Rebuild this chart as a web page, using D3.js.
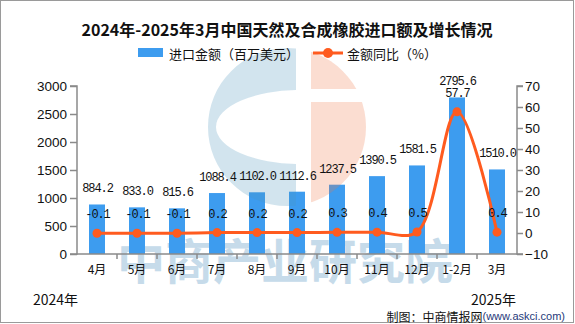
<!DOCTYPE html>
<html><head><meta charset="utf-8">
<script src="https://cdn.jsdelivr.net/npm/d3@7/dist/d3.min.js"></script>
<style>body{margin:0;background:#fff}svg{display:block}</style>
</head><body><svg id="c" width="575" height="324"></svg>
<script>
const categories = ["4月","5月","6月","7月","8月","9月","10月","11月","12月","1-2月","3月"];
const importValues = [884.2,833.0,815.6,1088.4,1102.0,1112.6,1237.5,1390.5,1581.5,2795.6,1510.0];
const yoyValues = [-0.1,-0.1,-0.1,0.2,0.2,0.2,0.3,0.4,0.5,57.7,0.4];
const leftTicks = [0,500,1000,1500,2000,2500,3000];
const rightTicks = [-10,0,10,20,30,40,50,60,70];
const title = "2024年-2025年3月中国天然及合成橡胶进口额及增长情况";
const legendBar = "进口金额（百万美元）";
const legendLine = "金额同比（%）";

const svg = d3.select("#c");
const CJK = "'Noto Sans CJK SC', sans-serif";
const MONO = "'Liberation Mono', monospace";
const L = 77, R = 517, T = 86, B = 254;
const blue = "#3D9CEF", orange = "#FF5B1F", axisC = "#8a8a8a";

svg.append("rect").attr("x",0.5).attr("y",0.5).attr("width",573).attr("height",322)
  .attr("fill","#fff").attr("stroke","#9a9a9a");

const x = d3.scaleBand().domain(categories).range([L,R]).paddingInner(0.6).paddingOuter(0.3);
const yL = d3.scaleLinear().domain([0,3000]).range([B,T]);
const yR = d3.scaleLinear().domain([-10,70]).range([B,T]);

// watermark text (behind bars)
svg.append("text").attr("x",285).attr("y",258).attr("text-anchor","middle")
  .attr("dominant-baseline","central").attr("font-family",CJK).attr("font-weight","bold")
  .attr("font-size",48).attr("fill","#C6DBEA").text("中商产业研究院");

// bars
svg.selectAll("rect.bar").data(importValues).join("rect").attr("class","bar")
  .attr("x",(d,i)=>x(categories[i])).attr("width",x.bandwidth())
  .attr("y",d=>yL(d)).attr("height",d=>B-yL(d)).attr("fill",blue);

// logo watermark (on top, semi transparent)
const cx=287, cy=127, r=79;
const defs = svg.append("defs");
defs.append("clipPath").attr("id","cl").append("rect").attr("x",0).attr("y",0).attr("width",296).attr("height",324);
const cr = defs.append("clipPath").attr("id","cr");
cr.append("rect").attr("x",311).attr("y",0).attr("width",300).attr("height",89);
cr.append("rect").attr("x",311).attr("y",102).attr("width",300).attr("height",200);
const leftG = svg.append("g").attr("clip-path","url(#cl)");
const ell = `M${cx-r},${cy} a${r},${r} 0 1,0 ${2*r},0 a${r},${r} 0 1,0 ${-2*r},0 Z M${300-84},${cy} a84,37 0 1,0 168,0 a84,37 0 1,0 -168,0 Z`;
leftG.append("path").attr("d",ell).attr("fill-rule","evenodd").attr("fill","#4B93BB").attr("fill-opacity",0.25);
svg.append("g").attr("clip-path","url(#cr)").append("circle").attr("cx",cx).attr("cy",cy).attr("r",r)
  .attr("fill","#F07846").attr("fill-opacity",0.25);

// axes
const axL = svg.append("g").attr("transform",`translate(${L},0)`)
  .call(d3.axisLeft(yL).tickValues(leftTicks).tickSize(7).tickPadding(3).tickFormat(d3.format("d")));
const axR = svg.append("g").attr("transform",`translate(${R},0)`)
  .call(d3.axisRight(yR).tickValues(rightTicks).tickSize(6).tickPadding(2).tickFormat(d=>d<0?"−"+Math.abs(d):d));
[axL,axR].forEach(a=>{
  a.select(".domain").attr("stroke",axisC).attr("stroke-width",1.5);
  a.selectAll(".tick line").attr("stroke",axisC).attr("stroke-width",1.5);
  a.selectAll("text").attr("font-family","'Liberation Sans', Arial, sans-serif").attr("font-size",13.5).attr("fill","#111");
});
axL.select(".domain").attr("d",`M-7,${T}H0V${B}H-7`);
axR.select(".domain").attr("d",`M6,${T}H0V${B}H6`);
const axB = svg.append("g").attr("transform",`translate(0,${B})`)
  .call(d3.axisBottom(x).tickSize(0).tickPadding(11));
axB.select(".domain").attr("stroke",axisC).attr("stroke-width",1.5).attr("d",`M${L},0H${R}`);
axB.selectAll("text").attr("font-family",CJK).attr("font-size",12).attr("fill","#111");
const step = x.step();
const bounds = d3.range(1, categories.length).map(i => x.range()[0] + i*step);
axB.selectAll("line.bt").data(bounds).join("line").attr("class","bt")
  .attr("x1",d=>d).attr("x2",d=>d)
  .attr("y1",0).attr("y2",5).attr("stroke",axisC).attr("stroke-width",1.5);

// line
const line = d3.line().x((d,i)=>x(categories[i])+x.bandwidth()/2).y(d=>yR(d)).curve(d3.curveCatmullRom.alpha(0.5));
svg.append("path").datum(yoyValues).attr("d",line).attr("fill","none").attr("stroke",orange).attr("stroke-width",3);
svg.selectAll("circle.pt").data(yoyValues).join("circle").attr("class","pt")
  .attr("cx",(d,i)=>x(categories[i])+x.bandwidth()/2).attr("cy",d=>yR(d)).attr("r",4.5).attr("fill",orange);

// labels
svg.selectAll("text.vl").data(importValues).join("text").attr("class","vl")
  .attr("x",(d,i)=>x(categories[i])+x.bandwidth()/2+0.5).attr("y",d=>yL(d)-15)
  .attr("text-anchor","middle").attr("dominant-baseline","central")
  .attr("font-family",MONO).attr("font-size",12).attr("letter-spacing","-1.1px").attr("fill","#111")
  .text(d=>d.toFixed(1));
svg.selectAll("text.pl").data(yoyValues).join("text").attr("class","pl")
  .attr("x",(d,i)=>x(categories[i])+x.bandwidth()/2+0.5).attr("y",d=>yR(d)-18)
  .attr("text-anchor","middle").attr("dominant-baseline","central")
  .attr("font-family",MONO).attr("font-size",12).attr("letter-spacing","-1.1px").attr("fill","#111")
  .text(d=>d.toFixed(1));

// title
svg.append("text").attr("x",287).attr("y",29).attr("text-anchor","middle").attr("dominant-baseline","central")
  .attr("font-family",CJK).attr("font-weight","bold").attr("font-size",16).attr("fill","#111").text(title);

// legend
svg.append("rect").attr("x",138).attr("y",48).attr("width",25).attr("height",9).attr("fill",blue);
svg.append("text").attr("x",169).attr("y",53).attr("dominant-baseline","central")
  .attr("font-family",CJK).attr("font-size",13).attr("fill","#111").text(legendBar);
svg.append("line").attr("x1",313).attr("x2",343).attr("y1",53).attr("y2",53).attr("stroke",orange).attr("stroke-width",3);
svg.append("circle").attr("cx",328).attr("cy",53).attr("r",5).attr("fill",orange);
svg.append("text").attr("x",347).attr("y",53).attr("dominant-baseline","central")
  .attr("font-family",CJK).attr("font-size",13).attr("fill","#111").text(legendLine);

// year notes & source
svg.append("text").attr("x",33).attr("y",299).attr("dominant-baseline","central")
  .attr("font-family",CJK).attr("font-size",14).attr("fill","#111").text("2024年");
svg.append("text").attr("x",471).attr("y",299).attr("dominant-baseline","central")
  .attr("font-family",CJK).attr("font-size",14).attr("fill","#111").text("2025年");
const src = svg.append("text").attr("x",565).attr("y",316).attr("text-anchor","end").attr("dominant-baseline","central");
src.append("tspan").attr("font-family",CJK).attr("font-size",12).attr("fill","#111").text("制图：中商情报网");
src.append("tspan").attr("font-family","'Liberation Sans', Arial, sans-serif").attr("font-size",11).attr("fill","#1F3A7A").text("(www.askci.com)");
</script></body></html>
